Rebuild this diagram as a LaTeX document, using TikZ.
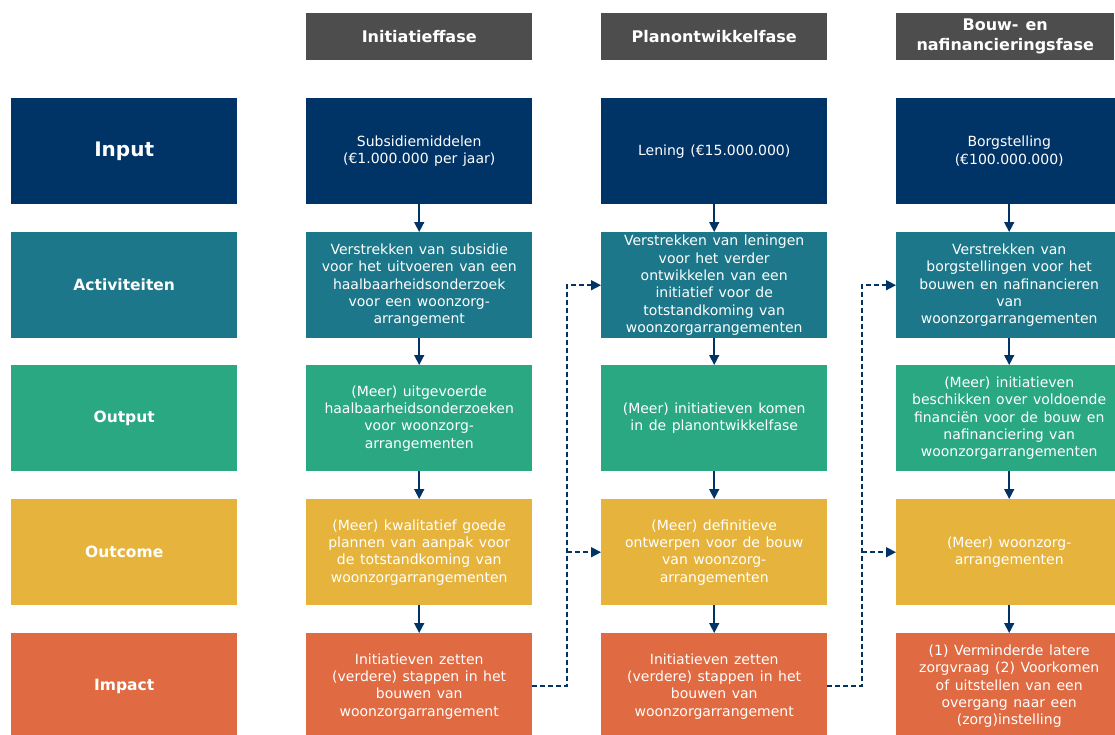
\documentclass[tikz,border=0pt]{standalone}
\usepackage{fontspec}
\setmainfont{DejaVu Sans}[WordSpace={1.25}]
\usetikzlibrary{arrows.meta}
\definecolor{cin}{RGB}{0,51,102}
\definecolor{cact}{RGB}{27,119,137}
\definecolor{cout}{RGB}{42,168,130}
\definecolor{coc}{RGB}{230,180,60}
\definecolor{cimp}{RGB}{224,106,66}
\definecolor{chead}{RGB}{77,77,77}
\definecolor{carr}{RGB}{0,51,102}
\tikzset{
  cell/.style={fill=#1, draw=none, minimum width=226pt, minimum height=106pt, inner sep=0pt,
    text=white, align=center, font=\fontsize{14}{17.3}\selectfont, anchor=north west},
  lab/.style={cell=#1, font=\fontsize{15.5}{19}\selectfont\bfseries},
  head/.style={fill=chead, draw=none, minimum width=226pt, minimum height=47pt, inner sep=0pt,
    text=white, align=center, font=\fontsize{16}{20}\selectfont\bfseries, anchor=north west},
  flow/.style={draw=carr, line width=1.5pt, -{Triangle[width=10pt,length=10pt]}},
  jump/.style={flow, dash pattern=on 5pt off 3pt},
}
\begin{document}
\begin{tikzpicture}[x=1pt,y=-1pt]
\useasboundingbox (0,0) rectangle (1115,734);
\clip (0,0) rectangle (1115,734);
% headers
\node[head] (h1) at (306,13) {Initiatieffase};
\node[head] (h2) at (601,13) {Planontwikkelfase};
\node[head, minimum width=218pt] (h3) at (896,13) {Bouw- en\\nafinancieringsfase};
% labels
\node[lab=cin, font=\fontsize{20}{24}\selectfont\bfseries] (l1) at (11,98) {Input};
\node[lab=cact] (l2) at (11,232) {Activiteiten};
\node[lab=cout] (l3) at (11,365) {Output};
\node[lab=coc] (l4) at (11,499) {Outcome};
\node[lab=cimp] (l5) at (11,633) {Impact};
% column 1
\node[cell=cin] (a1) at (306,98) {Subsidiemiddelen\\(€1.000.000 per jaar)};
\node[cell=cact] (a2) at (306,232) {Verstrekken van subsidie\\voor het uitvoeren van een\\haalbaarheidsonderzoek\\voor een woonzorg-\\arrangement};
\node[cell=cout] (a3) at (306,365) {(Meer) uitgevoerde\\haalbaarheidsonderzoeken\\voor woonzorg-\\arrangementen};
\node[cell=coc] (a4) at (306,499) {(Meer) kwalitatief goede\\plannen van aanpak voor\\de totstandkoming van\\woonzorgarrangementen};
\node[cell=cimp] (a5) at (306,633) {Initiatieven zetten\\(verdere) stappen in het\\bouwen van\\woonzorgarrangement};
% column 2
\node[cell=cin] (b1) at (601,98) {Lening (€15.000.000)};
\node[cell=cact] (b2) at (601,232) {Verstrekken van leningen\\voor het verder\\ontwikkelen van een\\initiatief voor de\\totstandkoming van\\woonzorgarrangementen};
\node[cell=cout] (b3) at (601,365) {(Meer) initiatieven komen\\in de planontwikkelfase};
\node[cell=coc] (b4) at (601,499) {(Meer) definitieve\\ontwerpen voor de bouw\\van woonzorg-\\arrangementen};
\node[cell=cimp] (b5) at (601,633) {Initiatieven zetten\\(verdere) stappen in het\\bouwen van\\woonzorgarrangement};
% column 3
\node[cell=cin] (c1) at (896,98) {Borgstelling\\(€100.000.000)};
\node[cell=cact] (c2) at (896,232) {Verstrekken van\\borgstellingen voor het\\bouwen en nafinancieren\\van\\woonzorgarrangementen};
\node[cell=cout] (c3) at (896,365) {(Meer) initiatieven\\beschikken over voldoende\\financiën voor de bouw en\\nafinanciering van\\woonzorgarrangementen};
\node[cell=coc] (c4) at (896,499) {(Meer) woonzorg-\\arrangementen};
\node[cell=cimp] (c5) at (896,633) {(1) Verminderde latere\\zorgvraag (2) Voorkomen\\of uitstellen van een\\overgang naar een\\(zorg)instelling};
% vertical arrows
\foreach \c in {a,b,c}{
  \draw[flow] (\c1.south) -- (\c2.north);
  \draw[flow] (\c2.south) -- (\c3.north);
  \draw[flow] (\c3.south) -- (\c4.north);
  \draw[flow] (\c4.south) -- (\c5.north);
}
% dashed connectors
\path (a5.east) ++(34.5,0) coordinate (j1);
\path (b5.east) ++(34.5,0) coordinate (j2);
\draw[jump] (a5.east) -- (j1) -- (j1 |- b2.west) -- (b2.west);
\draw[jump] (j1 |- b4.west) -- (b4.west);
\draw[jump] (b5.east) -- (j2) -- (j2 |- c2.west) -- (c2.west);
\draw[jump] (j2 |- c4.west) -- (c4.west);
\end{tikzpicture}
\end{document}
